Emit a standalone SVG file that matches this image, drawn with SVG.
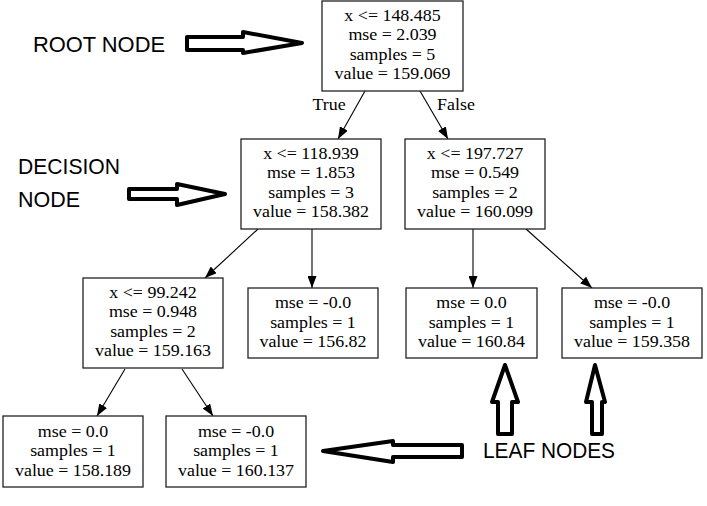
<svg xmlns="http://www.w3.org/2000/svg" width="707" height="506" viewBox="0 0 707 506">
<style>
.box{fill:#fff;stroke:#222;stroke-width:1.3}
.t{font-family:"Liberation Serif","Times New Roman",serif;font-size:16px;fill:#000;text-anchor:middle;transform-box:fill-box;transform-origin:center;transform:scaleX(1.12)}
.edge{stroke:#000;stroke-width:1.1;fill:none;marker-end:url(#ah)}
.lab{font-family:"Liberation Sans",Arial,sans-serif;font-size:22px;fill:#000}
.big{fill:#fff;stroke:#000;stroke-width:4;stroke-linejoin:round}
</style>
<defs>
<marker id="ah" viewBox="0 0 12 9" refX="12" refY="4.5" markerWidth="12" markerHeight="9" markerUnits="userSpaceOnUse" orient="auto">
<path d="M0,0 L12,4.5 L0,9 z" fill="#000"/>
</marker>
</defs>
<rect width="707" height="506" fill="#fff"/>
<g id="edges">
<line class="edge" x1="365" y1="91" x2="338" y2="139"/>
<line class="edge" x1="420" y1="91" x2="448" y2="139"/>
<line class="edge" x1="258" y1="229" x2="205" y2="278"/>
<line class="edge" x1="312" y1="229" x2="312" y2="288"/>
<line class="edge" x1="473" y1="229" x2="473" y2="288"/>
<line class="edge" x1="526" y1="229" x2="592" y2="288"/>
<line class="edge" x1="125" y1="369" x2="97" y2="416"/>
<line class="edge" x1="182" y1="369" x2="213" y2="416"/>
<text class="t" x="329" y="110">True</text>
<text class="t" x="456" y="110">False</text>
</g>
<g id="root">
<rect class="box" x="322" y="1" width="141" height="90"/>
<text class="t" x="392.5" y="21">x &lt;= 148.485</text>
<text class="t" x="392.5" y="40.5">mse = 2.039</text>
<text class="t" x="392.5" y="60">samples = 5</text>
<text class="t" x="392.5" y="79.5">value = 159.069</text>
</g>
<g id="n1">
<rect class="box" x="241" y="139" width="140" height="90"/>
<text class="t" x="311" y="159">x &lt;= 118.939</text>
<text class="t" x="311" y="178.5">mse = 1.853</text>
<text class="t" x="311" y="198">samples = 3</text>
<text class="t" x="311" y="217.5">value = 158.382</text>
</g>
<g id="n2">
<rect class="box" x="405" y="139" width="140" height="90"/>
<text class="t" x="475" y="159">x &lt;= 197.727</text>
<text class="t" x="475" y="178.5">mse = 0.549</text>
<text class="t" x="475" y="198">samples = 2</text>
<text class="t" x="475" y="217.5">value = 160.099</text>
</g>
<g id="n3">
<rect class="box" x="83" y="278" width="140" height="90"/>
<text class="t" x="153" y="298">x &lt;= 99.242</text>
<text class="t" x="153" y="317.5">mse = 0.948</text>
<text class="t" x="153" y="337">samples = 2</text>
<text class="t" x="153" y="356.5">value = 159.163</text>
</g>
<g id="n4">
<rect class="box" x="248" y="288" width="130" height="70"/>
<text class="t" x="313" y="308">mse = -0.0</text>
<text class="t" x="313" y="328">samples = 1</text>
<text class="t" x="313" y="347.5">value = 156.82</text>
</g>
<g id="n5">
<rect class="box" x="406" y="288" width="131" height="70"/>
<text class="t" x="471.5" y="308">mse = 0.0</text>
<text class="t" x="471.5" y="328">samples = 1</text>
<text class="t" x="471.5" y="347.5">value = 160.84</text>
</g>
<g id="n6">
<rect class="box" x="562" y="288" width="140" height="70"/>
<text class="t" x="632" y="308">mse = -0.0</text>
<text class="t" x="632" y="328">samples = 1</text>
<text class="t" x="632" y="347.5">value = 159.358</text>
</g>
<g id="n7">
<rect class="box" x="3" y="416" width="140" height="71"/>
<text class="t" x="73" y="437">mse = 0.0</text>
<text class="t" x="73" y="456.5">samples = 1</text>
<text class="t" x="73" y="476">value = 158.189</text>
</g>
<g id="n8">
<rect class="box" x="166" y="416" width="140" height="71"/>
<text class="t" x="236" y="437">mse = -0.0</text>
<text class="t" x="236" y="456.5">samples = 1</text>
<text class="t" x="236" y="476">value = 160.137</text>
</g>
<g id="annotations">
<text class="lab" x="33" y="52" textLength="132" lengthAdjust="spacingAndGlyphs">ROOT NODE</text>
<polygon class="big" points="187,37 243,37 243,32 302,43 243,53 243,50 187,50"/>
<text class="lab" x="18" y="174" textLength="102" lengthAdjust="spacingAndGlyphs">DECISION</text>
<text class="lab" x="18" y="207" textLength="62" lengthAdjust="spacingAndGlyphs">NODE</text>
<polygon class="big" points="129,189 177,189 177,184 225,194 177,205 177,199 129,199"/>
<text class="lab" x="483" y="458" textLength="132" lengthAdjust="spacingAndGlyphs">LEAF NODES</text>
<polygon class="big" points="323,451 393,441 393,445 462,445 462,457 393,457 393,462"/>
<polygon class="big" points="505,365 518,402 512,402 512,434 498,434 498,402 492,402"/>
<polygon class="big" points="595,365 605,402 602,402 602,434 592,434 592,402 586,402"/>
</g>
</svg>
